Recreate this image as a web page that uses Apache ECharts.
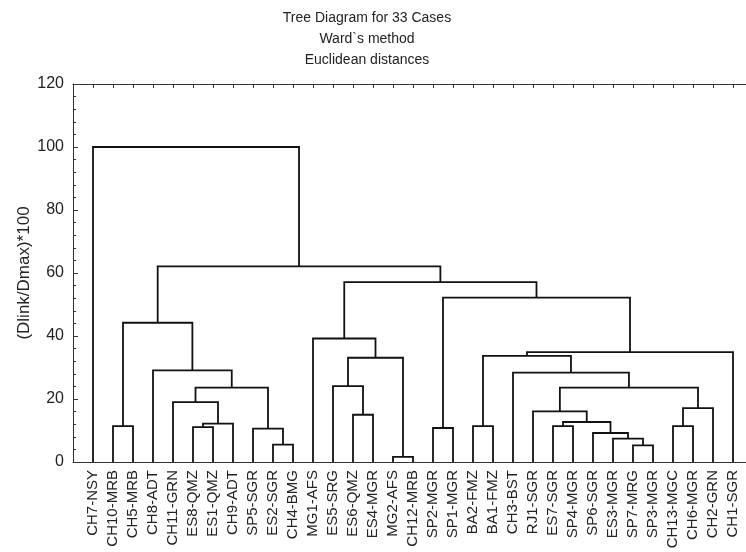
<!DOCTYPE html>
<html><head><meta charset="utf-8">
<script src="https://cdn.jsdelivr.net/npm/echarts@6/dist/echarts.min.js"></script>
<style>html,body{margin:0;padding:0;background:#fff}#c{width:746px;height:552px}</style>
</head><body><div id="c"></div>
<script>
const titleLines = ['Tree Diagram for 33 Cases', 'Ward`s method', 'Euclidean distances'];
const yAxisName = '(Dlink/Dmax)*100';
const leaves = ['CH7-NSY','CH10-MRB','CH5-MRB','CH8-ADT','CH11-GRN','ES8-QMZ','ES1-QMZ','CH9-ADT','SP5-SGR','ES2-SGR','CH4-BMG','MG1-AFS','ES5-SRG','ES6-QMZ','ES4-MGR','MG2-AFS','CH12-MRB','SP2-MGR','SP1-MGR','BA2-FMZ','BA1-FMZ','CH3-BST','RJ1-SGR','ES7-SGR','SP4-MGR','SP6-SGR','ES3-MGR','SP7-MRG','SP3-MGR','CH13-MGC','CH6-MGR','CH2-GRN','CH1-SGR'];
// merges: [nodeA, nodeB, linkage distance]; node ids < 33 are leaves, 33+k is merge k
const merges = [
  [9, 10, 5.5],    // 33
  [5, 6, 11.1],    // 34
  [34, 7, 12.2],   // 35
  [4, 35, 19.0],   // 36
  [8, 33, 10.6],   // 37
  [36, 37, 23.6],  // 38
  [3, 38, 29.1],   // 39
  [1, 2, 11.4],    // 40
  [40, 39, 44.2],  // 41
  [13, 14, 15.0],  // 42
  [12, 42, 24.1],  // 43
  [15, 16, 1.6],   // 44
  [43, 44, 33.1],  // 45
  [11, 45, 39.2],  // 46
  [17, 18, 10.8],  // 47
  [19, 20, 11.4],  // 48
  [27, 28, 5.3],   // 49
  [26, 49, 7.4],   // 50
  [25, 50, 9.2],   // 51
  [23, 24, 11.4],  // 52
  [52, 51, 12.7],  // 53
  [22, 53, 16.1],  // 54
  [29, 30, 11.4],  // 55
  [55, 31, 17.1],  // 56
  [54, 56, 23.6],  // 57
  [21, 57, 28.4],  // 58
  [48, 58, 33.7],  // 59
  [59, 32, 34.9],  // 60
  [47, 60, 52.2],  // 61
  [46, 61, 57.1],  // 62
  [41, 62, 62.1],  // 63
  [0, 63, 100.0]   // 64
];
const yMin = 0, yMax = 120, yStep = 20;

const nodeX = leaves.map((_, i) => i);
const nodeH = leaves.map(() => 0);
const segs = [];
merges.forEach(([a, b, h]) => {
  const xa = nodeX[a], xb = nodeX[b];
  segs.push({ coords: [[xa, nodeH[a]], [xa, h], [xb, h], [xb, nodeH[b]]] });
  nodeX.push((xa + xb) / 2);
  nodeH.push(h);
});
const leafIdx = leaves.map((_, i) => i);
const font = 'Liberation Sans, Arial, sans-serif';
const axisColor = '#333';

const chart = echarts.init(document.getElementById('c'), null, { renderer: 'canvas' });
chart.setOption({
  animation: false,
  backgroundColor: '#fff',
  title: {
    text: titleLines.join('\n'),
    left: 362,
    textAlign: 'center',
    top: 3,
    textStyle: { fontSize: 14, fontWeight: 'normal', color: '#222', lineHeight: 21, fontFamily: font }
  },
  grid: { left: 73, right: 0, top: 84, bottom: 90, containLabel: false },
  xAxis: [
    {
      type: 'value', min: -1, max: 32.65, position: 'bottom',
      axisLine: { show: true, onZero: false, lineStyle: { color: axisColor, width: 1 } },
      axisTick: { show: false },
      splitLine: { show: false },
      axisLabel: {
        customValues: leafIdx,
        formatter: v => leaves[Math.round(v)] || '',
        rotate: 90, fontSize: 15, color: '#222', fontFamily: font, margin: 8
      }
    },
    {
      type: 'value', min: -1, max: 32.65, position: 'top',
      axisLine: { show: true, onZero: false, lineStyle: { color: axisColor, width: 1 } },
      axisTick: { show: true, inside: true, length: 4, customValues: leafIdx, lineStyle: { color: axisColor } },
      splitLine: { show: false },
      axisLabel: { show: false }
    }
  ],
  yAxis: {
    type: 'value', min: yMin, max: yMax, interval: yStep,
    name: yAxisName, nameLocation: 'middle', nameGap: 40, nameMoveOverlap: false,
    nameTextStyle: { fontSize: 17, color: '#222', fontFamily: font },
    axisLine: { show: true, onZero: false, lineStyle: { color: axisColor, width: 1 } },
    axisTick: { show: true, inside: true, length: 5, lineStyle: { color: axisColor } },
    minorTick: { show: true, splitNumber: 5, length: 3, lineStyle: { color: axisColor } },
    splitLine: { show: false },
    axisLabel: { fontSize: 16, color: '#222', fontFamily: font, margin: 9 }
  },
  series: [{
    type: 'lines',
    coordinateSystem: 'cartesian2d',
    xAxisIndex: 0, yAxisIndex: 0,
    polyline: true,
    silent: true,
    lineStyle: { color: '#111', width: 1.8, opacity: 1 },
    data: segs
  }]
});
</script></body></html>
